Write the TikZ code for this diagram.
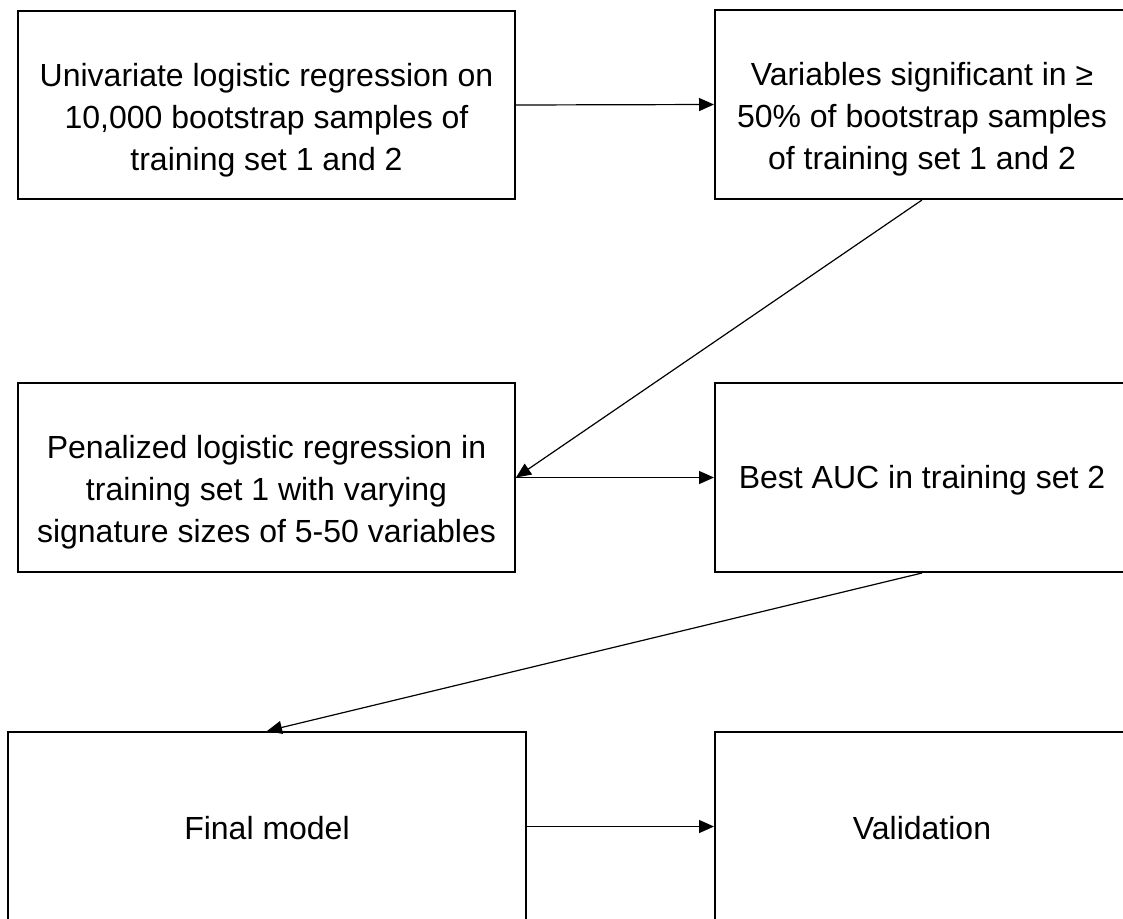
\documentclass[tikz,border=0pt]{standalone}
\usepackage{fontspec}
\setmainfont{Liberation Sans}
\usetikzlibrary{arrows.meta}
\begin{document}
\begin{tikzpicture}[x=1pt,y=-1pt,
  box/.style={draw=black,line width=2pt,rectangle,inner sep=0pt},
  txt/.style={inner sep=0pt,align=center,font=\fontsize{32}{42}\selectfont},
  conn/.style={draw=black,line width=1.2pt,-{Triangle[length=15pt,width=13pt]}}]
\useasboundingbox (0,0) rectangle (1123,918);
\fill[white] (0,0) rectangle (1123,918);
\node[box,minimum width=497pt,minimum height=188pt] (b1) at (266.5,105) {};
\node[box,minimum width=414pt,minimum height=189pt] (b2) at (922,104.5) {};
\node[box,minimum width=497pt,minimum height=189pt] (b3) at (266.5,477.5) {};
\node[box,minimum width=414pt,minimum height=189pt] (b4) at (922,477.5) {};
\node[box,minimum width=518pt,minimum height=189pt] (b5) at (267,826.5) {};
\node[box,minimum width=414pt,minimum height=189pt] (b6) at (922,826.5) {};
\node[txt,yshift=-15pt] (t1) at (b1.center)
  {Univariate logistic regression on\\10,000 bootstrap samples of\\training set 1 and 2};
\node[txt,yshift=-15pt] (t2) at (b2.center)
  {Variables significant in ≥\\50\% of bootstrap samples\\of training set 1 and 2};
\node[txt,yshift=-15pt] (t3) at (b3.center)
  {Penalized logistic regression in\\training set 1 with varying\\signature sizes of 5-50 variables};
\node[txt,yshift=-3pt] (t4) at (b4.center) {Best AUC in training set 2};
\node[txt,yshift=-2pt] (t5) at (b5.center) {Final model};
\node[txt,yshift=-2pt] (t6) at (b6.center) {Validation};
\draw[conn] (b1.east) -- (b2.west);
\draw[conn] (b2.south) -- (b3.east);
\draw[conn] (b3.east) -- (b4.west);
\draw[conn] (b4.south) -- (b5.north);
\draw[conn] (b5.east) -- (b6.west);
\end{tikzpicture}
\end{document}
